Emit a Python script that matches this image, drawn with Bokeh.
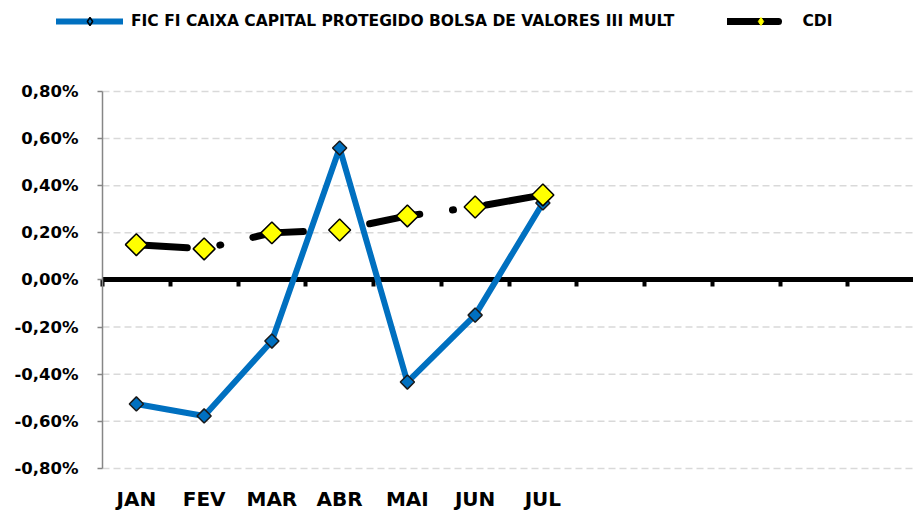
from bokeh.plotting import figure
from bokeh.models import (Range1d, FixedTicker, CustomJSTickFormatter,
                          LinearAxis, Legend, LegendItem, ColumnDataSource)
from bokeh.embed import file_html
from bokeh.resources import INLINE

# ---- data -----------------------------------------------------------
months = ["JAN", "FEV", "MAR", "ABR", "MAI", "JUN", "JUL"]
n_slots = 12  # the category axis is laid out for a full year
fund = [-0.526, -0.577, -0.259, 0.560, -0.433, -0.149, 0.327]   # % per month
cdi = [0.150, 0.132, 0.200, 0.212, 0.272, 0.310, 0.361]         # % per month
y_ticks = [-0.8, -0.6, -0.4, -0.2, 0.0, 0.2, 0.4, 0.6, 0.8]
fund_name = "FIC FI CAIXA CAPITAL PROTEGIDO BOLSA DE VALORES III MULT"
cdi_name = "CDI"

x = [i + 0.5 for i in range(len(months))]
slot_edges = list(range(n_slots + 1))
y_lo, y_hi = y_ticks[0], y_ticks[-1]

src = ColumnDataSource(dict(x=x, fund=fund, cdi=cdi))

FONT = "DejaVu Sans"
BLUE = "#0070C0"

# The frame fills the whole canvas; axes are pinned with fixed_location so
# that the legend (above the value area) is not clipped.
p = figure(width=913, height=511, output_backend="svg", toolbar_location=None,
           x_range=Range1d(-1.5055, 11.970), y_range=Range1d(-0.9825, 1.1862),
           min_border=0, min_border_left=0, min_border_right=0,
           min_border_top=0, min_border_bottom=0)
p.title.visible = False
p.outline_line_color = None
p.background_fill_color = "white"
p.border_fill_color = "white"
p.xgrid.visible = False
p.ygrid.visible = False

# dashed value gridlines, spanning the category area only
p.segment(x0=[0] * len(y_ticks), y0=y_ticks, x1=[n_slots] * len(y_ticks),
          y1=y_ticks, line_color="#D9D9D9", line_width=1.5, line_dash="7 4",
          level="image")

# y axis
yax = p.yaxis[0]
yax.fixed_location = 0
yax.bounds = (y_lo, y_hi)
yax.ticker = FixedTicker(ticks=y_ticks)
yax.formatter = CustomJSTickFormatter(
    code="return tick.toFixed(2).replace('.', ',') + '%';")
yax.axis_line_color = "#868686"
yax.axis_line_width = 1.5
yax.major_tick_line_color = "#868686"
yax.major_tick_line_width = 1.5
yax.major_tick_out = 5
yax.major_tick_in = 0
yax.minor_tick_line_color = None
yax.major_label_standoff = 19
yax.major_label_text_font = FONT
yax.major_label_text_font_style = "bold"
yax.major_label_text_font_size = "16.5px"
yax.major_label_text_color = "black"

# category labels under the value area
xax = p.xaxis[0]
xax.fixed_location = y_lo
xax.ticker = FixedTicker(ticks=x)
xax.formatter = CustomJSTickFormatter(
    args=dict(months=months), code="return months[Math.floor(tick)];")
xax.axis_line_color = None
xax.major_tick_line_color = None
xax.minor_tick_line_color = None
xax.major_label_standoff = 13
xax.major_label_text_font = FONT
xax.major_label_text_font_style = "bold"
xax.major_label_text_font_size = "20px"
xax.major_label_text_color = "black"

# horizontal axis crossing at zero, with category boundary ticks
zax = LinearAxis(fixed_location=0, bounds=(0, n_slots),
                 ticker=FixedTicker(ticks=slot_edges),
                 formatter=CustomJSTickFormatter(code="return '';"),
                 axis_line_color="black", axis_line_width=5,
                 major_tick_line_color="black", major_tick_line_width=4,
                 major_tick_out=7, major_tick_in=0,
                 minor_tick_line_color=None, major_label_text_font_size="1px",
                 level="underlay")
p.add_layout(zax, "below")

# fund series
fl = p.line("x", "fund", source=src, line_color=BLUE, line_width=6,
            line_join="round", line_cap="round")
p.scatter("x", "fund", source=src, marker="square", angle=0.785398, size=10,
          fill_color=BLUE, line_color="#1a1a1a", line_width=1.5)

# CDI series
cl = p.line("x", "cdi", source=src, line_color="black", line_width=7,
            line_join="round", line_cap="round", line_dash="51 33 1 33")
p.scatter("x", "cdi", source=src, marker="square", angle=0.785398, size=15.5,
          fill_color="#FFFF00", line_color="black", line_width=1.5)

# small legend-only markers (not drawn in the plot itself)
lg_fm = p.scatter("x", "fund", source=src, marker="diamond",
                  size=13, fill_color=BLUE,
                  line_color="black", line_width=1.5, visible=False)
lg_cm = p.scatter("x", "cdi", source=src, marker="diamond",
                  size=11, fill_color="#FFFF00", line_color="#FFFF00",
                  line_width=1, visible=False)

legend = Legend(items=[LegendItem(label=fund_name, renderers=[fl, lg_fm]),
                       LegendItem(label=cdi_name, renderers=[cl, lg_cm])],
                orientation="horizontal", location=(56, 480),
                glyph_width=67, glyph_height=20, label_standoff=8,
                spacing=53, padding=0, margin=0,
                border_line_color=None, background_fill_alpha=0,
                inactive_fill_alpha=0,
                label_text_font=FONT, label_text_font_style="bold",
                label_text_font_size="15.5px", label_text_color="black")
p.add_layout(legend, "center")

open("out.html", "w").write(file_html(p, INLINE))
